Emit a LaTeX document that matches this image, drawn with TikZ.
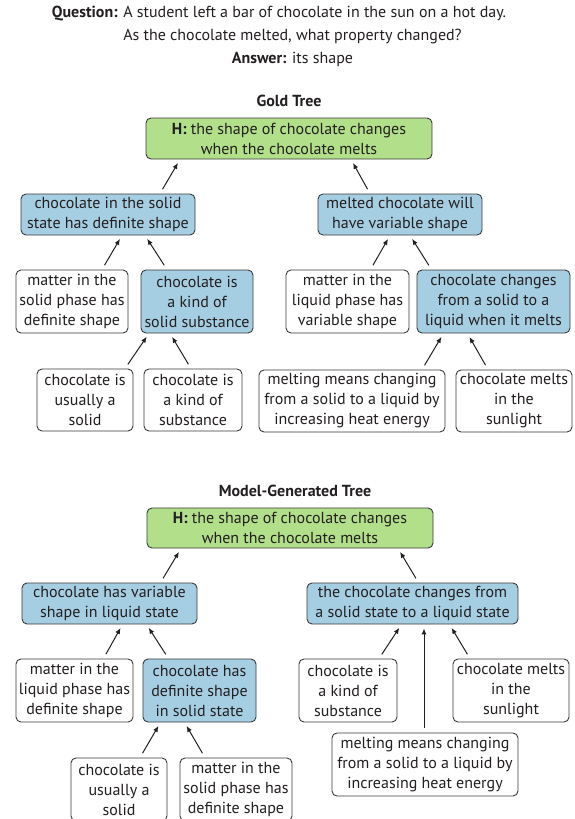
\documentclass[tikz,border=0pt]{standalone}
\usepackage{fontspec}
\setmainfont{PT Sans}
\usetikzlibrary{arrows.meta}
\definecolor{hgreen}{HTML}{B2DF8A}
\definecolor{fblue}{HTML}{A6CEE3}
\definecolor{ink}{HTML}{231F20}
\definecolor{edge}{HTML}{3A3A3A}
\begin{document}
\begin{tikzpicture}[x=1pt,y=-1pt,
  every node/.style={font=\fontsize{16}{20}\selectfont, text=ink},
  box/.style={draw=edge, line width=0.9pt, rounded corners=5pt, align=center,
    inner xsep=1pt, inner ysep=0pt, minimum height=63pt},
  leaf/.style={box, fill=white},
  mid/.style={box, fill=fblue},
  hyp/.style={box, fill=hgreen, minimum height=41pt},
  up/.style={draw=ink, line width=1pt, -{Latex[length=6pt,width=5pt]},
    shorten <=5pt, shorten >=4pt}]
\useasboundingbox (0,0) rectangle (575,819);
% heading
\node (q1) at (279,14) {\textbf{Question:} A student left a bar of chocolate in the sun on a hot day.};
\node (q2) at (292.5,36) {As the chocolate melted, what property changed?};
\node (ans) at (292.5,59) {\textbf{Answer:} its shape};
% gold tree
\node (gt) at (289,101) {\textbf{Gold Tree}};
\node[hyp, minimum width=286pt] (gH) at (289,138.5) {\textbf{H:} the shape of chocolate changes\\when the chocolate melts};
\node[mid, minimum width=174pt, minimum height=41pt] (gL) at (108,214.5) {chocolate in the solid\\state has definite shape};
\node[mid, minimum width=164pt, minimum height=41pt] (gR) at (400,214.5) {melted chocolate will\\have variable shape};
\node[leaf, minimum width=112pt] (gLL) at (72,301.5) {matter in the\\solid phase has\\definite shape};
\node[mid, minimum width=112pt] (gLR) at (197,301.5) {chocolate is\\a kind of\\solid substance};
\node[leaf, minimum width=123pt] (gRL) at (347.5,301.5) {matter in the\\liquid phase has\\variable shape};
\node[mid, minimum width=153pt] (gRR) at (493.5,301.5) {chocolate changes\\from a solid to a\\liquid when it melts};
\node[leaf, minimum width=96pt, minimum height=62pt] (gLRL) at (85,400) {chocolate is\\usually a\\solid};
\node[leaf, minimum width=98pt, minimum height=62pt] (gLRR) at (193,400) {chocolate is\\a kind of\\substance};
\node[leaf, minimum width=186pt, minimum height=62pt] (gRRL) at (352,401) {melting means changing\\from a solid to a liquid by\\increasing heat energy};
\node[leaf, minimum width=116pt, minimum height=62pt] (gRRR) at (514,401) {chocolate melts\\in the\\sunlight};
\draw[up] ([xshift=52pt]gL.north) -- ([xshift=-109pt]gH.south);
\draw[up] ([xshift=-30pt]gR.north) -- ([xshift=62pt]gH.south);
\draw[up] ([xshift=30pt]gLL.north) -- ([xshift=14pt]gL.south);
\draw[up] ([xshift=-30pt]gLR.north) -- ([xshift=37pt]gL.south);
\draw[up] ([xshift=23pt]gRL.north) -- ([xshift=-10pt]gR.south);
\draw[up] ([xshift=-62pt]gRR.north) -- ([xshift=10pt]gR.south);
\draw[up] ([xshift=40pt]gLRL.north) -- ([xshift=-48pt]gLR.south);
\draw[up] ([xshift=-2pt]gLRR.north) -- ([xshift=-27pt]gLR.south);
\draw[up] ([xshift=70pt]gRRL.north) -- ([xshift=-50pt]gRR.south);
\draw[up] ([xshift=-26pt]gRRR.north) -- ([xshift=-26pt]gRR.south);
% model-generated tree
\node (mt) at (295,491) {\textbf{Model-Generated Tree}};
\node[hyp, minimum width=286pt, minimum height=40pt] (mH) at (290,528) {\textbf{H:} the shape of chocolate changes\\when the chocolate melts};
\node[mid, minimum width=175pt, minimum height=41pt] (mL) at (109.5,603.5) {chocolate has variable\\shape in liquid state};
\node[mid, minimum width=211pt, minimum height=41pt] (mR) at (412.5,603.5) {the chocolate changes from\\a solid state to a liquid state};
\node[leaf, minimum width=117pt] (mLL) at (74.5,690.5) {matter in the\\liquid phase has\\definite shape};
\node[mid, minimum width=113pt] (mLR) at (199.5,690.5) {chocolate has\\definite shape\\in solid state};
\node[leaf, minimum width=98pt] (mRL) at (348,690.5) {chocolate is\\a kind of\\substance};
\node[leaf, minimum width=116pt] (mRR) at (511,690.5) {chocolate melts\\in the\\sunlight};
\node[leaf, minimum width=186pt] (mRM) at (425,764.5) {melting means changing\\from a solid to a liquid by\\increasing heat energy};
\node[leaf, minimum width=96pt] (mLRL) at (119,789.5) {chocolate is\\usually a\\solid};
\node[leaf, minimum width=112pt] (mLRR) at (236,789.5) {matter in the\\solid phase has\\definite shape};
\draw[up] ([xshift=51pt]mL.north) -- ([xshift=-109pt]mH.south);
\draw[up] ([xshift=6pt]mR.north) -- ([xshift=108pt]mH.south);
\draw[up] ([xshift=29pt]mLL.north) -- ([xshift=13pt]mL.south);
\draw[up] ([xshift=-31pt]mLR.north) -- ([xshift=37pt]mL.south);
\draw[up] ([xshift=21pt]mLRL.north) -- ([xshift=-39pt]mLR.south);
\draw[up] ([xshift=-31pt]mLRR.north) -- ([xshift=-15pt]mLR.south);
\draw[up] ([xshift=31pt]mRL.north) -- ([xshift=-11pt]mR.south);
\draw[up] ([xshift=-1pt]mRM.north) -- ([xshift=11.5pt]mR.south);
\draw[up] ([xshift=-41pt]mRR.north) -- ([xshift=37pt]mR.south);
\end{tikzpicture}
\end{document}
